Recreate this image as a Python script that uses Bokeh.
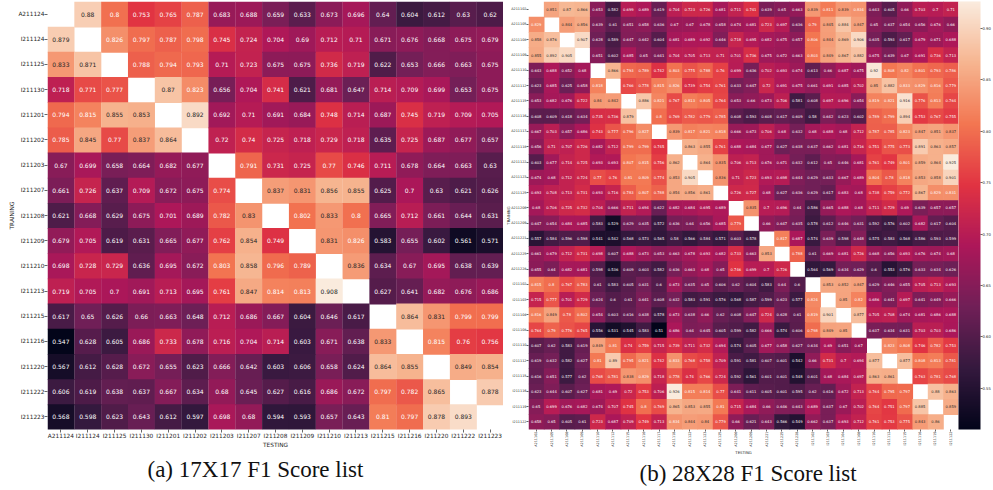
from math import pi
from bokeh.embed import file_html
from bokeh.resources import INLINE
from bokeh.layouts import row
from bokeh.models import (ColumnDataSource, FactorRange, LinearColorMapper, ColorBar,
                          FixedTicker, NumeralTickFormatter, Title)
from bokeh.plotting import figure
from bokeh.core.properties import value
from bokeh.transform import transform

_ = None

labels_17 = ["A211124", "I211124", "I211125", "I211130", "I211201", "I211202", "I211203", "I211207", "I211208",
             "I211209", "I211210", "I211213", "I211215", "I211216", "I211220", "I211222", "I211223"]

scores_17 = [
    [_, .88, .8, .753, .765, .787, .683, .688, .659, .633, .673, .696, .64, .604, .612, .63, .62],
    [.879, _, .826, .797, .787, .798, .745, .724, .704, .69, .712, .71, .671, .676, .668, .675, .679],
    [.833, .871, _, .788, .794, .793, .71, .723, .675, .675, .736, .719, .622, .653, .666, .663, .675],
    [.718, .771, .777, _, .87, .823, .656, .704, .741, .621, .681, .647, .714, .709, .699, .653, .675],
    [.794, .815, .855, .853, _, .892, .692, .71, .691, .684, .748, .714, .687, .745, .719, .709, .705],
    [.785, .845, .77, .837, .864, _, .72, .74, .725, .718, .729, .718, .635, .725, .687, .677, .657],
    [.67, .699, .658, .664, .682, .677, _, .791, .731, .725, .77, .746, .711, .678, .664, .663, .63],
    [.661, .726, .637, .709, .672, .675, .774, _, .837, .831, .856, .855, .625, .7, .63, .621, .626],
    [.621, .668, .629, .675, .701, .689, .782, .83, _, .802, .833, .8, .665, .712, .661, .644, .631],
    [.679, .705, .619, .631, .665, .677, .762, .854, .749, _, .831, .826, .583, .655, .602, .561, .571],
    [.698, .728, .729, .636, .695, .672, .803, .858, .796, .789, _, .836, .634, .67, .695, .638, .639],
    [.719, .705, .7, .691, .713, .695, .761, .847, .814, .813, .908, _, .627, .641, .682, .676, .686],
    [.617, .65, .626, .66, .663, .648, .712, .686, .667, .604, .646, .617, _, .864, .831, .799, .799],
    [.547, .628, .605, .686, .733, .678, .716, .704, .714, .603, .671, .638, .833, _, .815, .76, .756],
    [.567, .612, .628, .672, .655, .623, .666, .642, .603, .606, .658, .624, .864, .855, _, .849, .854],
    [.606, .619, .638, .637, .667, .634, .68, .645, .627, .616, .686, .672, .797, .782, .865, _, .878],
    [.568, .598, .623, .643, .612, .597, .698, .68, .594, .593, .657, .643, .81, .797, .878, .893, _],
]

labels_28 = ["A211102", "A211105", "A211108", "A211109", "A211110", "A211112", "A211115", "A211116", "A211117",
             "A211118", "A211122", "A211123", "A211125", "A211206", "A211209", "A211221", "A211225", "A211228",
             "I211102", "I211103", "I211104", "I211108", "I211110", "I211112", "I211115", "I211116", "I211119",
             "I211122"]

scores_28 = [
    [_, .851, .87, .866, .653, .582, .699, .689, .619, .704, .723, .726, .681, .711, .741, .639, .65, .663, .839, .811, .839, .834, .643, .605, .66, .703, .7, .71],
    [.829, _, .844, .856, .639, .61, .651, .658, .636, .67, .67, .678, .658, .674, .681, .723, .697, .636, .79, .845, .884, .847, .65, .637, .654, .656, .676, .66],
    [.858, .876, _, .907, .628, .589, .647, .642, .604, .681, .689, .692, .646, .718, .695, .682, .675, .657, .806, .844, .869, .906, .635, .593, .617, .679, .671, .688],
    [.855, .892, .905, _, .651, .602, .685, .65, .641, .704, .705, .713, .71, .701, .736, .675, .672, .663, .803, .849, .867, .882, .675, .639, .67, .691, .736, .713],
    [.643, .688, .652, .68, _, .866, .793, .789, .742, .803, .775, .788, .76, .699, .636, .702, .693, .674, .613, .66, .687, .675, .92, .808, .82, .801, .793, .786],
    [.623, .685, .625, .658, .818, _, .766, .778, .815, .826, .739, .754, .761, .633, .647, .72, .691, .675, .661, .691, .685, .702, .85, .882, .833, .829, .816, .779],
    [.653, .682, .676, .722, .84, .842, _, .886, .821, .767, .813, .805, .764, .653, .66, .673, .706, .581, .608, .697, .696, .654, .819, .821, .916, .776, .813, .764],
    [.608, .609, .618, .634, .735, .736, .879, _, .8, .769, .782, .779, .785, .608, .593, .608, .617, .609, .58, .642, .623, .602, .789, .799, .894, .753, .767, .755],
    [.667, .703, .657, .686, .743, .777, .796, .827, _, .839, .817, .821, .818, .666, .673, .706, .68, .632, .68, .688, .68, .712, .787, .785, .823, .847, .851, .837],
    [.656, .71, .707, .726, .682, .712, .799, .799, .745, _, .863, .855, .761, .688, .684, .677, .627, .638, .637, .662, .681, .716, .751, .775, .773, .891, .863, .857],
    [.603, .677, .714, .725, .693, .693, .807, .815, .756, .862, _, .864, .835, .706, .713, .676, .671, .632, .612, .65, .646, .681, .761, .749, .801, .859, .864, .925],
    [.674, .68, .712, .724, .77, .76, .81, .809, .774, .853, .905, _, .836, .71, .723, .693, .698, .644, .629, .633, .667, .689, .804, .78, .818, .853, .858, .901],
    [.693, .708, .713, .731, .693, .716, .783, .807, .788, .854, .856, .861, _, .726, .727, .68, .627, .636, .629, .617, .683, .68, .738, .759, .772, .867, .829, .831],
    [.68, .706, .725, .732, .704, .666, .711, .694, .622, .682, .684, .695, .689, _, .835, .7, .696, .64, .586, .665, .688, .68, .711, .729, .69, .639, .657, .657],
    [.647, .654, .684, .685, .583, .529, .629, .635, .572, .636, .64, .656, .685, .779, _, .66, .647, .635, .578, .612, .646, .631, .592, .576, .602, .682, .617, .604],
    [.557, .584, .596, .598, .541, .542, .568, .573, .565, .58, .566, .584, .571, .603, .578, _, .817, .687, .574, .639, .598, .648, .575, .583, .568, .586, .593, .599],
    [.661, .679, .712, .731, .698, .607, .688, .673, .653, .663, .678, .693, .682, .733, .663, .853, _, .788, .61, .669, .681, .726, .668, .656, .693, .676, .674, .68],
    [.655, .64, .682, .681, .598, .536, .609, .603, .582, .636, .663, .68, .65, .746, .699, .7, .726, _, .564, .569, .634, .629, .6, .553, .576, .633, .634, .626],
    [.815, .8, .767, .783, .61, .583, .605, .631, .6, .673, .635, .65, .606, .62, .604, .583, .64, .6, _, .853, .852, .847, .629, .646, .655, .705, .713, .693],
    [.715, .777, .701, .729, .624, .6, .61, .641, .608, .632, .583, .591, .576, .568, .587, .599, .623, .577, .824, _, .85, .82, .686, .641, .697, .641, .649, .666],
    [.816, .849, .78, .802, .654, .603, .616, .638, .578, .673, .638, .66, .62, .608, .647, .724, .628, .61, .819, .901, _, .877, .705, .708, .674, .681, .686, .688],
    [.764, .79, .776, .765, .556, .531, .545, .583, .51, .686, .64, .645, .605, .599, .582, .666, .574, .606, .798, .849, .85, _, .637, .634, .631, .703, .703, .686],
    [.607, .62, .583, .619, .849, .81, .74, .759, .715, .739, .711, .732, .694, .574, .605, .677, .658, .627, .634, .69, .651, .67, _, .823, .808, .746, .782, .753],
    [.619, .632, .582, .627, .81, .89, .795, .821, .742, .833, .768, .758, .709, .591, .581, .607, .601, .542, .66, .731, .7, .694, .877, _, .877, .808, .813, .781],
    [.616, .651, .577, .62, .768, .781, .838, .829, .718, .778, .74, .766, .724, .592, .561, .601, .601, .548, .601, .68, .684, .697, .863, .861, _, .763, .781, .768],
    [.623, .644, .607, .627, .681, .69, .72, .753, .706, .926, .815, .814, .77, .641, .611, .605, .601, .595, .62, .616, .672, .713, .764, .795, .797, _, .88, .863],
    [.65, .699, .676, .682, .674, .707, .745, .8, .769, .865, .853, .855, .81, .715, .684, .66, .646, .643, .689, .637, .67, .702, .764, .751, .797, .885, _, .859],
    [.658, .65, .605, .61, .723, .687, .709, .749, .713, .834, .844, .84, .779, .66, .621, .643, .566, .549, .662, .637, .693, .712, .761, .753, .775, .843, .86, _],
]

colorbar_ticks = [.55, .6, .65, .7, .75, .8, .85, .9]

rocket_anchors = ["#03051A", "#35193E", "#701F57", "#AD1759", "#E13342", "#F37651", "#F6B48F", "#FAEBDD"]


def make_palette(anchors, n=256):
    rgb = [tuple(int(a[i:i + 2], 16) for i in (1, 3, 5)) for a in anchors]
    out = []
    for k in range(n):
        t = k / (n - 1) * (len(rgb) - 1)
        j = min(int(t), len(rgb) - 2)
        f = t - j
        out.append("#%02x%02x%02x" % tuple(round(rgb[j][c] + (rgb[j + 1][c] - rgb[j][c]) * f) for c in range(3)))
    return out


PALETTE = make_palette(rocket_anchors)
INK = "#262626"


def heatmap(labels, scores, vmin, vmax, width, borders, cell_font, tick_font, axis_font, caption, cap_offset,
            cap_standoff, tick_len, label_standoff, vertical_x=False, colorbar=False):
    top, bottom, left, right = borders
    rows, cols, vals, ts, tc = [], [], [], [], []
    for r, lab_r in enumerate(labels):
        for c, lab_c in enumerate(labels):
            v = scores[r][c]
            if v is None:
                continue
            rows.append(lab_r)
            cols.append(lab_c)
            vals.append(v)
            ts.append(format(v, ".3g"))
            tc.append(INK if (v - vmin) / (vmax - vmin) > 0.78 else "#ffffff")
    src = ColumnDataSource(dict(x=cols, y=rows, v=vals, s=ts, c=tc))
    mapper = LinearColorMapper(palette=PALETTE, low=vmin, high=vmax)
    p = figure(width=width, height=490, output_backend="svg", toolbar_location=None,
               x_range=FactorRange(factors=labels),
               y_range=FactorRange(factors=list(reversed(labels))),
               min_border_top=top, min_border_bottom=bottom, min_border_left=left, min_border_right=right,
               outline_line_color=None, background_fill_color="white")
    p.grid.visible = False
    p.rect(x="x", y="y", width=1, height=1, source=src, fill_color=transform("v", mapper),
           line_color=None, dilate=True)
    p.text(x="x", y="y", text="s", source=src, text_color="c", text_align="center", text_baseline="middle",
           text_font=value("DejaVu Sans"), text_font_size=cell_font)
    for ax, name in ((p.xaxis[0], "TESTING"), (p.yaxis[0], "TRAINING")):
        ax.axis_label = name
        ax.axis_label_text_font = "DejaVu Sans"
        ax.axis_label_text_font_style = "normal"
        ax.axis_label_text_font_size = axis_font
        ax.axis_label_text_color = INK
        ax.axis_label_standoff = 0
        ax.major_label_text_font = "DejaVu Sans"
        ax.major_label_text_font_size = tick_font
        ax.major_label_text_color = INK
        ax.major_label_standoff = 0
        ax.axis_line_color = None
        ax.major_tick_in = 0
        ax.major_tick_out = tick_len
        ax.major_tick_line_color = INK
        ax.major_tick_line_width = 0.7
        ax.minor_tick_line_color = None
    p.yaxis[0].axis_label_standoff = label_standoff
    if vertical_x:
        p.xaxis[0].major_label_orientation = pi / 2
    if colorbar:
        cb = ColorBar(color_mapper=mapper, width=22, padding=0, margin=0, ticker=FixedTicker(ticks=colorbar_ticks),
                      formatter=NumeralTickFormatter(format="0.00"), major_tick_in=0, major_tick_out=2,
                      major_tick_line_color=INK, major_tick_line_width=0.7, label_standoff=0,
                      major_label_text_font="DejaVu Sans", major_label_text_font_size="3.8px",
                      major_label_text_color=INK, bar_line_color=None, border_line_color=None)
        p.add_layout(cb, "right")
    p.add_layout(Title(text=caption, text_font="Liberation Serif", text_font_style="normal", text_font_size="23px",
                       text_color="#111111", align="left", offset=cap_offset, standoff=cap_standoff), "below")
    return p


left_fig = heatmap(labels_17, scores_17, .547, .908, 503, (1, 56, 47, 0), "6px", "5.8px", "5.8px",
                   "(a) 17X17 F1 Score list", 100, 8, 3, 0)
right_fig = heatmap(labels_28, scores_28, .51, .926, 490, (1, 61, 21, 31), "3.7px", "3.4px", "3.8px",
                    "(b) 28X28 F1 Score list", 111, 2, 2, -3, vertical_x=True, colorbar=True)

page = row(left_fig, right_fig, spacing=0)
open("out.html", "w").write(file_html(page, INLINE))
